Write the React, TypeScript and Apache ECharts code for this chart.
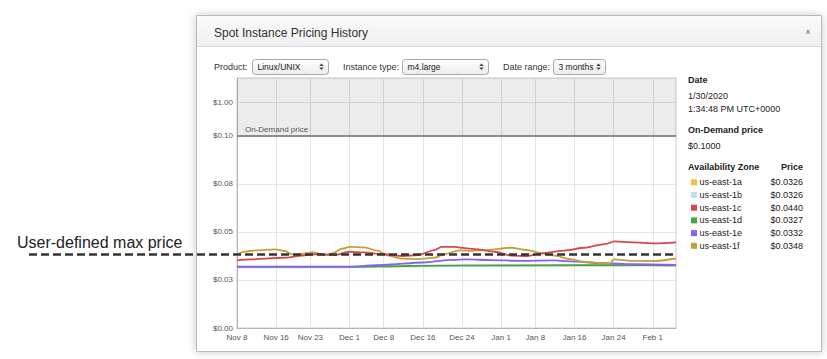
import React, { useEffect, useRef } from 'react';
import * as echarts from 'echarts';

// ---------- data ----------
const START_DATE = '2019-11-08';
const END_DAY = 89.75; // last visible day offset (~Feb 5, 2020)
const X_TICK_DATES = ['2019-11-08', '2019-11-16', '2019-11-23', '2019-12-01', '2019-12-08', '2019-12-16', '2019-12-24', '2020-01-01', '2020-01-08', '2020-01-16', '2020-01-24', '2020-02-01'];
const X_TICK_LABELS = ['Nov 8', 'Nov 16', 'Nov 23', 'Dec 1', 'Dec 8', 'Dec 16', 'Dec 24', 'Jan 1', 'Jan 8', 'Jan 16', 'Jan 24', 'Feb 1'];

const Y_TICK_PRICES = [0, 0.025, 0.05, 0.075, 0.1, 1.0];
const Y_TICK_LABELS = ['$0.00', '$0.03', '$0.05', '$0.08', '$0.10', '$1.00'];
const ON_DEMAND_PRICE = 0.1;
const USER_MAX_PRICE = 0.0383;

const ZONES = ['us-east-1a', 'us-east-1b', 'us-east-1c', 'us-east-1d', 'us-east-1e', 'us-east-1f'];
const ZONE_COLORS = ['#f0c03c', '#c2def5', '#d8474a', '#41a64a', '#8b5cf6', '#c4a136'];
const HOVER_PRICES = ['$0.0326', '$0.0326', '$0.0440', '$0.0327', '$0.0332', '$0.0348'];
const HOVER_DATE = '1/30/2020';
const HOVER_TIME = '1:34:48 PM UTC+0000';
const HOVER_ON_DEMAND = '$0.1000';

// [day offset from START_DATE, price]
const US_EAST_1A: [number, number][] = [[0, 0.0317], [25, 0.0317], [35, 0.0321], [50, 0.0324], [70, 0.0325], [83, 0.0326], [89.75, 0.0325]];
const US_EAST_1B: [number, number][] = [[0, 0.0316], [25, 0.0316], [35, 0.0321], [50, 0.0324], [70, 0.0325], [83, 0.0326], [89.75, 0.0325]];
const US_EAST_1C: [number, number][] = [[0, 0.0352], [3, 0.0357], [6.4, 0.0363], [10, 0.0366], [13.3, 0.0377], [16, 0.0384], [20, 0.0380], [23, 0.0397], [26, 0.0394], [30, 0.0384], [34, 0.0375], [37, 0.0380], [40.4, 0.0406], [41.8, 0.0423], [44.5, 0.0423], [45.5, 0.0419], [48.6, 0.0411], [52.7, 0.0397], [56, 0.0377], [59.4, 0.0375], [62.3, 0.0389], [67, 0.0403], [71, 0.0418], [75.2, 0.0437], [77.3, 0.0451], [80.7, 0.0446], [85.5, 0.0441], [89.75, 0.0446]];
const US_EAST_1D: [number, number][] = [[0, 0.0318], [24, 0.0318], [34, 0.0323], [48, 0.0326], [70, 0.0327], [83, 0.0327], [89.75, 0.0326]];
const US_EAST_1E: [number, number][] = [[0, 0.0320], [23, 0.0320], [30, 0.0329], [38, 0.0341], [44, 0.0355], [47, 0.0357], [52, 0.0354], [58, 0.0350], [65, 0.0352], [68, 0.0347], [75, 0.0338], [81, 0.0332], [89.75, 0.0328]];
const US_EAST_1F: [number, number][] = [[0, 0.0383], [1.6, 0.0398], [3.7, 0.0404], [7.8, 0.0410], [9.8, 0.0401], [11.3, 0.0383], [12.5, 0.0384], [15.4, 0.0394], [18, 0.0381], [19.5, 0.0389], [21.5, 0.0413], [23, 0.0422], [26, 0.0420], [28.7, 0.0403], [30.7, 0.0379], [33.6, 0.0361], [37, 0.0359], [40.4, 0.0366], [42.4, 0.0385], [45.5, 0.0404], [48, 0.0402], [51, 0.0406], [56, 0.0418], [59.4, 0.0406], [62.3, 0.0389], [65, 0.0377], [68, 0.0359], [71, 0.0345], [75.2, 0.0337], [76.3, 0.0337], [77, 0.0357], [80.7, 0.0350], [85.5, 0.0349], [89.75, 0.0362]];

const SERIES_DATA = [US_EAST_1A, US_EAST_1B, US_EAST_1C, US_EAST_1D, US_EAST_1E, US_EAST_1F];
const DRAW_ORDER = [0, 1, 3, 4, 5, 2];

// ---------- scale helpers ----------
// Above the on-demand price the axis is compressed (broken scale).
const COMPRESSED_SPAN = 0.0177;
const Y_AXIS_MAX = 0.1302;
const mapPrice = (p: number) => (p <= ON_DEMAND_PRICE ? p : ON_DEMAND_PRICE + ((p - ON_DEMAND_PRICE) / (1 - ON_DEMAND_PRICE)) * COMPRESSED_SPAN);
const dayOffset = (d: string) => (Date.parse(d + 'T00:00:00Z') - Date.parse(START_DATE + 'T00:00:00Z')) / 86400000;
const X_TICK_DAYS = X_TICK_DATES.map(dayOffset);
const Y_TICK_POS = Y_TICK_PRICES.map(mapPrice);

const UI_FONT = '"Liberation Sans", Arial, Helvetica, sans-serif';

function selectBox(id: string, x: number, w: number, label: string) {
  const y = 59;
  const h = 15;
  return [
    {
      type: 'rect', id: id + '-box', z: 5,
      shape: { x: x + 0.5, y: y + 0.5, width: w, height: h, r: 3 },
      style: {
        fill: new echarts.graphic.LinearGradient(0, 0, 0, 1, [
          { offset: 0, color: '#ffffff' },
          { offset: 1, color: '#ececec' },
        ]),
        stroke: '#a8a8a8', lineWidth: 1,
      },
    },
    {
      type: 'text', id: id + '-txt', z: 6,
      style: { x: x + 5.5, y: y + h / 2 + 0.5, text: label, font: `8.5px ${UI_FONT}`, fill: '#222', verticalAlign: 'middle' },
    },
    {
      type: 'polygon', id: id + '-up', z: 6,
      shape: { points: [[x + w - 6.5, y + 4.5], [x + w - 8.8, y + 7], [x + w - 4.2, y + 7]] },
      style: { fill: '#444' },
    },
    {
      type: 'polygon', id: id + '-dn', z: 6,
      shape: { points: [[x + w - 8.8, y + 8.5], [x + w - 4.2, y + 8.5], [x + w - 6.5, y + 11]] },
      style: { fill: '#444' },
    },
  ];
}

function buildGraphics() {
  const els: any[] = [];
  // dialog frame
  els.push({
    type: 'rect', id: 'dlg', z: -20,
    shape: { x: 196.5, y: 15.5, width: 625, height: 336 },
    style: { fill: '#ffffff', stroke: '#b9b9b9', lineWidth: 1, shadowBlur: 8, shadowColor: 'rgba(0,0,0,0.22)' },
  });
  els.push({
    type: 'rect', id: 'dlg-head', z: -19,
    shape: { x: 197, y: 16, width: 624, height: 30.5 },
    style: {
      fill: new echarts.graphic.LinearGradient(0, 0, 0, 1, [
        { offset: 0, color: '#fafafa' },
        { offset: 1, color: '#f0f0f0' },
      ]),
    },
  });
  els.push({
    type: 'line', id: 'dlg-head-line', z: -18,
    shape: { x1: 197, y1: 46.5, x2: 821, y2: 46.5 },
    style: { stroke: '#dadada', lineWidth: 1 },
  });
  els.push({
    type: 'text', id: 'title', z: 5,
    style: { x: 214, y: 32.5, text: 'Spot Instance Pricing History', font: `12px ${UI_FONT}`, fill: '#333', verticalAlign: 'middle' },
  });
  els.push({
    type: 'text', id: 'close', z: 5,
    style: { x: 808, y: 31, text: 'x', font: `8px ${UI_FONT}`, fill: '#555', verticalAlign: 'middle', align: 'center' },
  });
  // controls
  const lbl = (id: string, x: number, t: string) => ({
    type: 'text', id, z: 5,
    style: { x, y: 67, text: t, font: `9px ${UI_FONT}`, fill: '#333', verticalAlign: 'middle' },
  });
  els.push(lbl('l-product', 214, 'Product:'));
  els.push(...selectBox('s-product', 252, 76, 'Linux/UNIX'));
  els.push(lbl('l-type', 343, 'Instance type:'));
  els.push(...selectBox('s-type', 402, 86, 'm4.large'));
  els.push(lbl('l-range', 503, 'Date range:'));
  els.push(...selectBox('s-range', 553, 52, '3 months'));

  // right panel
  const px = 688;
  const txt = (id: string, y: number, t: string, bold = false, x = px, align = 'left') => ({
    type: 'text', id, z: 5,
    style: { x, y, text: t, font: `${bold ? 'bold ' : ''}9px ${UI_FONT}`, fill: '#222', verticalAlign: 'middle', align },
  });
  els.push(txt('p-date-h', 80, 'Date', true));
  els.push(txt('p-date', 96, HOVER_DATE));
  els.push(txt('p-time', 108.5, HOVER_TIME));
  els.push(txt('p-od-h', 130, 'On-Demand price', true));
  els.push(txt('p-od', 145.5, HOVER_ON_DEMAND));
  els.push(txt('p-az-h', 166.5, 'Availability Zone', true));
  els.push(txt('p-pr-h', 166.5, 'Price', true, 803, 'right'));
  ZONES.forEach((z, i) => {
    const y = 182.3 + i * 12.7;
    els.push({
      type: 'rect', id: 'sw-' + i, z: 5,
      shape: { x: 691, y: y - 3, width: 6, height: 6 },
      style: { fill: ZONE_COLORS[i] },
    });
    els.push(txt('zn-' + i, y, z, false, 699.5));
    els.push(txt('zp-' + i, y, HOVER_PRICES[i], false, 803, 'right'));
  });

  // annotation text (outside dialog)
  els.push({
    type: 'text', id: 'ann', z: 5,
    style: { x: 17, y: 242, text: 'User-defined max price', font: `16px ${UI_FONT}`, fill: '#222', verticalAlign: 'middle' },
  });
  return els;
}

export default function App() {
  const ref = useRef<HTMLDivElement>(null);
  useEffect(() => {
    document.body.style.margin = '0';
    const chart = echarts.init(ref.current!, null, { renderer: 'svg' });

    const series: any[] = DRAW_ORDER.map((idx, k) => {
      const s: any = {
        type: 'line',
        name: ZONES[idx],
        data: SERIES_DATA[idx],
        symbol: 'none',
        smooth: 0.3,
        smoothMonotone: 'x',
        lineStyle: { color: ZONE_COLORS[idx], width: 1.8 },
        itemStyle: { color: ZONE_COLORS[idx] },
        silent: true,
        z: 3 + k,
      };
      if (k === 0) {
        s.markArea = {
          silent: true,
          itemStyle: { color: 'rgba(0,0,0,0.075)' },
          data: [[{ yAxis: mapPrice(ON_DEMAND_PRICE) }, { yAxis: Y_AXIS_MAX }]],
        };
        s.markLine = {
          silent: true,
          symbol: 'none',
          lineStyle: { color: '#8c8c8c', width: 2, type: 'solid' },
          label: {
            show: true, position: 'insideStartTop', formatter: 'On-Demand price',
            fontSize: 8, color: '#555', fontFamily: UI_FONT, distance: [8, 2],
          },
          data: [{ yAxis: mapPrice(ON_DEMAND_PRICE) }],
        };
      }
      return s;
    });

    const option: any = {
      animation: false,
      backgroundColor: '#ffffff',
      grid: { left: 237, right: 151, top: 78, bottom: 31, show: true, borderColor: '#c9c9c9', borderWidth: 1, backgroundColor: 'transparent' },
      xAxis: {
        type: 'value', min: 0, max: END_DAY,
        axisLine: { lineStyle: { color: '#b5b5b5' } },
        axisTick: { show: false, customValues: X_TICK_DAYS },
        axisLabel: {
          customValues: X_TICK_DAYS, fontSize: 8, color: '#555', fontFamily: UI_FONT, margin: 5,
          formatter: (v: number) => {
            const i = X_TICK_DAYS.findIndex((d) => Math.abs(d - v) < 0.01);
            return i >= 0 ? X_TICK_LABELS[i] : '';
          },
        },
        splitLine: { show: true, lineStyle: { color: '#e3e3e3', width: 1 } },
      },
      yAxis: {
        type: 'value', min: 0, max: Y_AXIS_MAX,
        axisLine: { show: true, lineStyle: { color: '#b5b5b5' } },
        axisTick: { show: false, customValues: Y_TICK_POS },
        axisLabel: {
          customValues: Y_TICK_POS, fontSize: 8, color: '#555', fontFamily: UI_FONT, margin: 4,
          formatter: (v: number) => {
            const i = Y_TICK_POS.findIndex((d) => Math.abs(d - v) < 1e-6);
            return i >= 0 ? Y_TICK_LABELS[i] : '';
          },
        },
        splitLine: { show: true, lineStyle: { color: '#e6e6e6', width: 1 } },
      },
      series,
      graphic: { elements: buildGraphics() },
    };
    chart.setOption(option);

    const p1 = chart.convertToPixel({ gridIndex: 0 }, [END_DAY, USER_MAX_PRICE]) as number[];
    chart.setOption({
      graphic: {
        elements: [
          {
            type: 'line', id: 'max-dash', z: 100,
            shape: { x1: 29, y1: p1[1], x2: p1[0], y2: p1[1] },
            style: { stroke: '#333', lineWidth: 2.6, lineDash: [8, 4] },
          },
        ],
      },
    });

    return () => chart.dispose();
  }, []);
  return <div ref={ref} style={{ width: 827, height: 359 }} />;
}
